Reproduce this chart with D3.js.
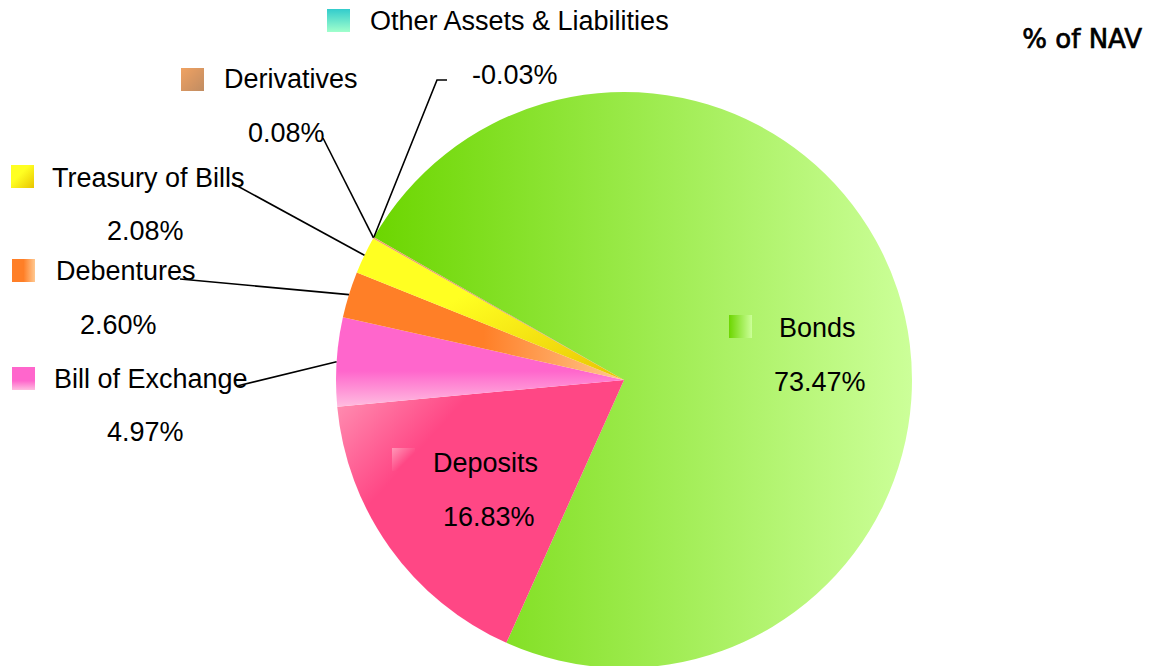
<!DOCTYPE html>
<html>
<head>
<meta charset="utf-8">
<script src="https://cdn.jsdelivr.net/npm/d3@7"></script>
<style>
  body { margin: 0; background: #fff; }
  text { font-family: "Liberation Sans", Arial, sans-serif; fill: #000; }
</style>
</head>
<body>
<div id="chart"></div>
<script>
// Data
var categories = ["Bonds", "Deposits", "Bill of Exchange", "Debentures", "Treasury of Bills", "Derivatives", "Other Assets & Liabilities"];
var values = [73.47, 16.83, 4.97, 2.60, 2.08, 0.08, -0.03];
var valueLabels = ["73.47%", "16.83%", "4.97%", "2.60%", "2.08%", "0.08%", "-0.03%"];
var title = "% of NAV";

// gradient stops per slice [from, to] and direction (slice / legend marker)
var gradients = [
  { c: ["#6cd600", "#ccff99"], s: [0, 0, 1, 0], m: [0, 0, 1, 0] },
  { c: ["#ff98b8", "#ff4785"], s: [0, 0, 0.3, 0.25], m: [0, 0, 0.6, 0.6] },
  { c: ["#ff66cc", "#ffbde0"], s: [0, 0.6, 0, 1], m: [0, 0.6, 0, 1] },
  { c: ["#ff7f27", "#ffc890"], s: [0.5, 0, 1, 0], m: [0.5, 0, 1, 0] },
  { c: ["#ffff22", "#e8c400"], s: [0.4, 0.4, 1, 1], m: [0.4, 0.4, 1, 1] },
  { c: ["#f0a262", "#c08c62"], s: [0, 0, 1, 1], m: [0, 0, 1, 1] },
  { c: ["#33cccc", "#a0ffcc"], s: [0, 0, 0, 1], m: [0, 0, 0, 1] }
];

// label layout: marker (mx,my), name x (tx), name baseline (ty), value x/baseline, leader end
var labelLayout = [
  { mx: 729, my: 315, tx: 779, ty: 337, vx: 774, vy: 391 },
  { mx: 392, my: 448, tx: 433, ty: 472, vx: 443, vy: 526 },
  { mx: 12, my: 367, tx: 54, ty: 388, vx: 107, vy: 441, lead: [[237, 386]] },
  { mx: 12, my: 259, tx: 56, ty: 280, vx: 80, vy: 334, lead: [[180, 279]] },
  { mx: 11, my: 165, tx: 52, ty: 187, vx: 107, vy: 240, lead: [[232, 183]] },
  { mx: 181, my: 68, tx: 224, ty: 88, vx: 248, vy: 142, lead: [[323, 138]] },
  { mx: 327, my: 9, tx: 370, ty: 30, vx: 472, vy: 84, lead: [[437, 80], [447, 80]] }
];

const width = 1158, height = 666;
const cx = 624, cy = 380, radius = 288;

const svg = d3.select("#chart")
  .append("svg")
  .attr("width", width)
  .attr("height", height);

const defs = svg.append("defs");
function addGradient(id, c, p) {
  const lg = defs.append("linearGradient")
    .attr("id", id)
    .attr("x1", p[0]).attr("y1", p[1])
    .attr("x2", p[2]).attr("y2", p[3]);
  lg.append("stop").attr("offset", 0).attr("stop-color", c[0]);
  lg.append("stop").attr("offset", 1).attr("stop-color", c[1]);
}
gradients.forEach((g, i) => {
  addGradient("grad" + i, g.c, g.s);
  addGradient("mark" + i, g.c, g.m);
});

const rows = categories.map((name, i) => ({ name, value: values[i], label: valueLabels[i], i }));

const pie = d3.pie()
  .sort(null)
  .value(d => Math.max(0, d.value))
  .startAngle(-60.3 * Math.PI / 180)
  .endAngle(299.7 * Math.PI / 180);

const arc = d3.arc().innerRadius(0).outerRadius(radius);

const arcs = pie(rows);

const chart = svg.append("g").attr("transform", `translate(${cx},${cy})`);

chart.selectAll("path.slice")
  .data(arcs)
  .join("path")
  .attr("class", "slice")
  .attr("d", arc)
  .attr("fill", d => `url(#grad${d.data.i})`);

// leader lines
arcs.forEach(d => {
  const lay = labelLayout[d.data.i];
  if (!lay.lead) return;
  const mid = (d.startAngle + d.endAngle) / 2;
  const start = [cx + radius * Math.sin(mid), cy - radius * Math.cos(mid)];
  const pts = [start].concat(lay.lead);
  svg.append("path")
    .attr("d", d3.line()(pts))
    .attr("fill", "none")
    .attr("stroke", "#000")
    .attr("stroke-width", 1.6);
});

// labels
const lbl = svg.append("g");
rows.forEach(r => {
  const lay = labelLayout[r.i];
  lbl.append("rect")
    .attr("x", lay.mx).attr("y", lay.my)
    .attr("width", 23).attr("height", 23)
    .attr("fill", `url(#mark${r.i})`);
  lbl.append("text")
    .attr("x", lay.tx).attr("y", lay.ty)
    .attr("font-size", 27)
    .text(r.name);
  lbl.append("text")
    .attr("x", lay.vx).attr("y", lay.vy)
    .attr("font-size", 27)
    .text(r.label);
});

svg.append("text")
  .attr("x", 1142).attr("y", 48)
  .attr("text-anchor", "end")
  .attr("font-size", 26)
  .style("font-family", "'DejaVu Sans', sans-serif")
  .attr("stroke", "#000")
  .attr("stroke-width", 0.7)
  .text(title);
</script>
</body>
</html>
